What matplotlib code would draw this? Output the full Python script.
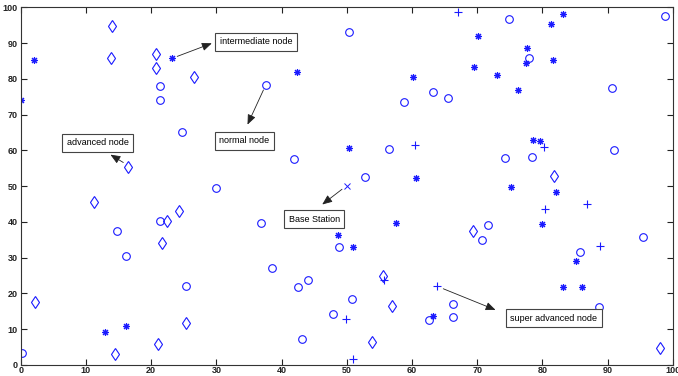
import matplotlib
matplotlib.use("Agg")
import matplotlib.pyplot as plt

# normal nodes (circles)
normal_x = [0.15, 50.4, 37.6, 63.2, 58.8, 65.5, 56.5, 41.9, 52.8, 21.4, 21.4, 24.7, 29.9,
            14.7, 21.3, 16.1, 25.3, 36.9, 38.6, 44.0, 42.5, 48.8, 50.8, 47.9, 43.1, 62.6,
            66.3, 66.3, 70.7, 71.6, 85.8, 95.4, 88.7, 74.9, 77.9, 98.8, 90.6, 74.3, 78.4, 91.0]
normal_y = [3.3, 93.0, 78.4, 76.4, 73.6, 74.7, 60.3, 57.6, 52.5, 78.1, 74.2, 65.0, 49.5,
            37.5, 40.3, 30.5, 22.2, 39.8, 27.1, 23.7, 21.7, 32.9, 18.5, 14.3, 7.2, 12.5,
            17.1, 13.4, 34.9, 39.0, 31.6, 35.9, 16.2, 96.7, 85.9, 97.7, 77.5, 57.9, 58.1, 60.0]

# advanced nodes (diamonds)
adv_x = [14.0, 13.9, 20.8, 20.8, 26.6, 16.5, 11.3, 22.5, 24.2, 21.7, 2.2, 25.3, 21.1, 14.4,
         55.5, 56.9, 53.8, 69.3, 98.0, 81.8]
adv_y = [94.9, 85.7, 86.9, 83.0, 80.6, 55.3, 45.6, 40.3, 43.1, 34.0, 17.7, 11.8, 5.8, 3.2,
         24.9, 16.4, 6.3, 37.5, 4.7, 52.9]

# intermediate nodes (asterisks)
inter_x = [0.05, 2.1, 23.2, 42.3, 60.2, 50.3, 60.6, 83.1, 81.3, 70.1, 77.7, 77.5, 81.6, 69.5,
           73.1, 76.2, 78.6, 79.6, 75.2, 57.6, 48.7, 50.9, 63.2, 12.9, 16.2, 79.9, 82.0,
           85.2, 83.1, 86.1]
inter_y = [74.2, 85.3, 85.7, 81.8, 80.4, 60.7, 52.2, 98.0, 95.3, 92.1, 88.7, 84.5, 85.2, 83.2,
           81.1, 77.0, 62.8, 62.6, 49.8, 39.7, 36.2, 32.9, 13.7, 9.3, 11.0, 39.4, 48.3,
           29.0, 21.9, 21.9]

# super advanced nodes (plus)
super_x = [60.5, 67.0, 80.2, 80.4, 86.9, 88.8, 55.7, 63.9, 49.9, 51.0]
super_y = [61.4, 98.6, 60.9, 43.7, 44.9, 33.2, 23.7, 22.1, 12.8, 1.7]

# base station
bs_x = [50]
bs_y = [50]

ticks = [0, 10, 20, 30, 40, 50, 60, 70, 80, 90, 100]

fig = plt.figure(figsize=(6.78, 3.76), dpi=100)
ax = fig.add_axes([0.0305, 0.0293, 0.962, 0.9513])
blue = (0.1, 0.1, 1)
ax.plot(normal_x, normal_y, 'o', mfc='none', mec=blue, ms=5.5, mew=0.8)
ax.plot(adv_x, adv_y, 'd', mfc='none', mec=blue, ms=6, mew=0.8)
ax.plot(inter_x, inter_y, linestyle='none', marker=(8, 2, 0), color=blue, ms=5, mew=0.8)
ax.plot(super_x, super_y, '+', color=blue, ms=6, mew=0.8)
ax.plot(bs_x, bs_y, 'x', color=blue, ms=4, mew=0.7)

ax.set_xlim(0, 100)
ax.set_ylim(0, 100)
ax.set_xticks(ticks)
ax.set_yticks(ticks)
ax.tick_params(direction='in', length=4, width=0.8, top=True, right=True,
               labelsize=6.5, colors='#222222')
ax.tick_params(axis='x', pad=1)
ax.tick_params(axis='y', pad=2)
for lab in ax.get_xticklabels() + ax.get_yticklabels():
    lab.set_fontweight('bold')
    lab.set_family('Liberation Sans')
for s in ax.spines.values():
    s.set_color('#333333')
    s.set_linewidth(0.8)

box = dict(boxstyle='square,pad=0.5', fc='white', ec='#444444', lw=0.8)
tkw = dict(fontsize=6.5, family='Liberation Sans', va='center', ha='center', bbox=box)
ax.text(36.1, 90.3, 'intermediate node', **tkw)
ax.text(34.3, 62.7, 'normal node', **tkw)
ax.text(11.8, 62.1, 'advanced node', **tkw)
ax.text(45.0, 40.7, 'Base Station', **tkw)
ax.text(81.7, 13.1, 'super advanced node', **tkw)

akw = dict(arrowstyle='-|>,head_length=0.6,head_width=0.25', color='#222222', lw=0.6)
ax.annotate('', xy=(29.7, 90.2), xytext=(23.6, 86.0), arrowprops=akw)
ax.annotate('', xy=(34.6, 66.5), xytext=(37.4, 77.6), arrowprops=akw)
ax.annotate('', xy=(13.4, 59.2), xytext=(16.1, 56.2), arrowprops=akw)
ax.annotate('', xy=(45.9, 44.4), xytext=(49.6, 49.6), arrowprops=akw)
ax.annotate('', xy=(73.2, 15.1), xytext=(64.4, 21.6), arrowprops=akw)

fig.savefig('out.png', dpi=100)
